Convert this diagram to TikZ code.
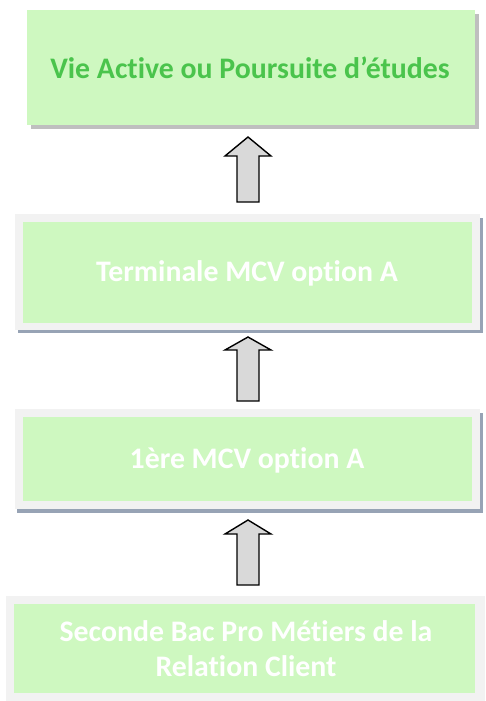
\documentclass[tikz,border=0pt]{standalone}
\usepackage{fontspec}
\setmainfont{Carlito}[Ligatures=NoCommon]
\definecolor{boxgreen}{HTML}{CEF8C0}
\definecolor{txtgreen}{HTML}{4AC44C}
\definecolor{frame}{HTML}{F2F2F2}
\definecolor{shadowgray}{HTML}{BFBFBF}
\definecolor{shadowblue}{HTML}{97A3B5}
\definecolor{arrowfill}{HTML}{D9D9D9}
\tikzset{
  boxtext/.style={anchor=base, inner sep=0pt, font=\fontsize{29.8}{35.6}\selectfont\bfseries, align=center},
  blockarrow/.style={draw=black, line width=1.4pt, fill=arrowfill, line join=miter},
}
\newcommand{\upblockarrow}[3]{% bottom y, head base y, tip y
  \draw[blockarrow] (237,#1) -- (237,#2) -- (225,#2) -- (248,#3) -- (271,#2) -- (259,#2) -- (259,#1) -- cycle;}
\begin{document}
\begin{tikzpicture}[x=1pt,y=-1pt]
\useasboundingbox (0,0) rectangle (485,701);
\fill[white] (0,0) rectangle (485,701);
% Box 1
\fill[shadowgray] (31,14) rectangle (479,129);
\fill[boxgreen] (27,10) rectangle (475,125);
\node[boxtext, text=txtgreen] (t1) at (250,78) {Vie Active ou Poursuite d’études};
% Box 2
\fill[shadowblue] (18,218) rectangle (483,333);
\fill[frame] (15,214) rectangle (480,330);
\fill[boxgreen] (23,222) rectangle (472,323);
\node[boxtext, text=white] (t2) at (247,281.5) {Terminale MCV option A};
% Box 3
\fill[shadowblue] (17,413) rectangle (483,513);
\fill[frame] (15,409) rectangle (480,509);
\fill[boxgreen] (23,417) rectangle (472,501);
\node[boxtext, text=white] (t3) at (247,468) {1ère MCV option A};
% Box 4
\fill[frame] (6,596) rectangle (485,701);
\fill[boxgreen] (14,604) rectangle (475,693);
\node[boxtext, text=white] (t4a) at (246,641.5) {Seconde Bac Pro Métiers de la};
\node[boxtext, text=white] (t4b) at (246,676.5) {Relation Client};
% Arrows
\upblockarrow{202}{156}{137}
\upblockarrow{401}{350}{337}
\upblockarrow{585}{534}{520}
\end{tikzpicture}
\end{document}
